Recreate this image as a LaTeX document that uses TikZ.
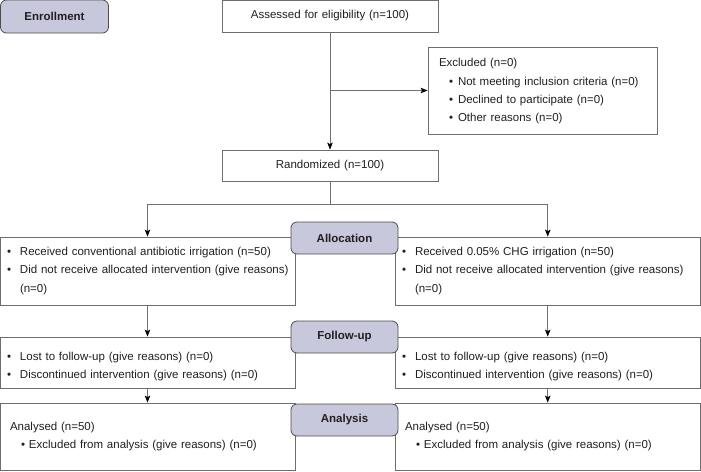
\documentclass[tikz,border=0pt]{standalone}
\usepackage{fontspec}
\setmainfont{Liberation Sans}
\usetikzlibrary{arrows.meta}
\definecolor{stagefill}{HTML}{C8C8DC}
\definecolor{stageline}{HTML}{4D4D4D}
\definecolor{boxline}{HTML}{6E6E6E}
\definecolor{linkgray}{HTML}{707070}
\definecolor{inktext}{HTML}{231F20}
\newcommand{\bul}[2]{\hspace*{#1}\makebox[#2][l]{\textbullet}}
\newcommand{\lowtop}{\rule{0pt}{16.5pt}}

\begin{document}
\begin{tikzpicture}[x=1pt,y=-1pt,
		every node/.style={font=\fontsize{11.5}{18.3}\selectfont,text=inktext},
		stage/.style={draw=stageline,fill=stagefill,rounded corners=6pt,line width=0.8pt,
			minimum width=107pt,minimum height=32pt,font=\fontsize{11.5}{14}\selectfont\bfseries},
		box/.style={draw=boxline,fill=white,line width=0.8pt,align=left,inner xsep=2pt,inner ysep=0pt},
		link/.style={draw=linkgray,line width=0.8pt,-{Stealth[length=7pt,width=5.5pt,inset=1.5pt,color=black]}}]
		\useasboundingbox (0,0) rectangle (701,471);
		%
		\node[box,align=center,text width=212pt,minimum height=32pt] (assess) at (330,16) {Assessed for eligibility (n=100)};
		\node[box,inner xsep=11pt,text width=207pt,minimum height=87pt] (excl) at (542.5,90.5)
			{\rule{0pt}{10pt}Excluded (n=0)\\
			\bul{10pt}{9pt}Not meeting inclusion criteria (n=0)\\
			\bul{10pt}{9pt}Declined to participate (n=0)\\
			\bul{10pt}{9pt}Other reasons (n=0)};
		\node[box,align=center,text width=212pt,minimum height=31pt] (rand) at (330,165.5) {Randomized (n=100)};
		%
		\node[box,text width=291pt,minimum height=68pt] (allocL) at (147.5,271)
			{\bul{5pt}{13pt}Received conventional antibiotic irrigation (n=50)\\
			\bul{5pt}{13pt}Did not receive allocated intervention (give reasons)\\
			\hspace*{18pt}(n=0)};
		\node[box,text width=301.5pt,minimum height=68pt] (allocR) at (547.75,271)
			{\bul{5pt}{13pt}Received 0.05\% CHG irrigation (n=50)\\
			\bul{5pt}{13pt}Did not receive allocated intervention (give reasons)\\
			\hspace*{18pt}(n=0)};
		\node[box,text width=291pt,minimum height=51pt] (followL) at (147.5,362.5)
			{\lowtop\bul{5pt}{13pt}Lost to follow-up (give reasons) (n=0)\\
			\bul{5pt}{13pt}Discontinued intervention (give reasons) (n=0)};
		\node[box,text width=301.5pt,minimum height=51pt] (followR) at (547.75,362.5)
			{\lowtop\bul{5pt}{13pt}Lost to follow-up (give reasons) (n=0)\\
			\bul{5pt}{13pt}Discontinued intervention (give reasons) (n=0)};
		\node[box,text width=291pt,minimum height=67pt] (analL) at (147.5,436.5)
			{\hspace*{8pt}Analysed (n=50)\\
			\bul{19pt}{8pt}Excluded from analysis (give reasons) (n=0)};
		\node[box,text width=301.5pt,minimum height=67pt] (analR) at (547.75,436.5)
			{\hspace*{8pt}Analysed (n=50)\\
			\bul{19pt}{8pt}Excluded from analysis (give reasons) (n=0)};
		%
		\node[stage,minimum width=108pt,minimum height=33pt] (enroll) at (54.5,16.5) {Enrollment};
		\node[stage] (alloc) at (344.5,238) {Allocation};
		\node[stage] (follow) at (344.5,337) {Follow-up};
		\node[stage] (anal) at (344.5,420) {Analysis};
		%
		\coordinate (fork) at (assess.south |- excl.west);
		\coordinate (split) at (330,204);
		\draw[link] (assess) -- (rand);
		\draw[link] (fork) -- (excl.west);
		\draw[link] (rand.south) -- (split) -| (allocL.north);
		\draw[link] (split) -| (allocR.north);
		\draw[link] (allocL) -- (followL);
		\draw[link] (allocR) -- (followR);
		\draw[link] (followL) -- (analL);
		\draw[link] (followR) -- (analR);
	\end{tikzpicture}
\end{document}
